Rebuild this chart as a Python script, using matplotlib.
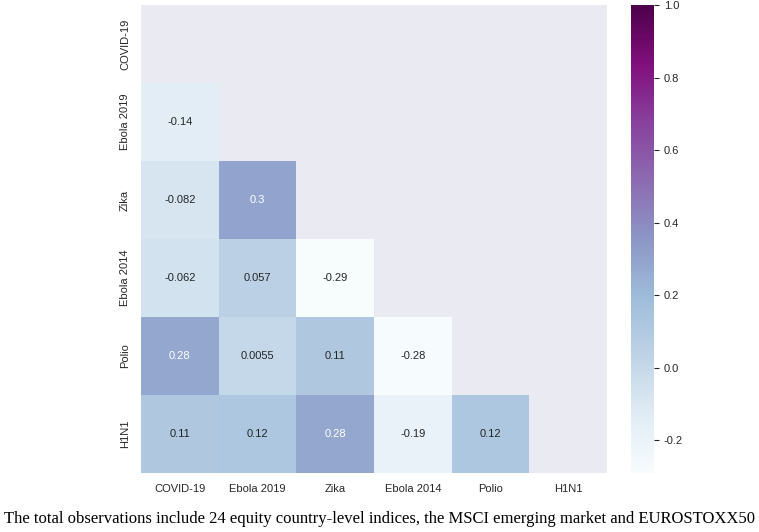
import numpy as np
import pandas as pd
import seaborn as sns
import matplotlib.pyplot as plt

labels = ["COVID-19", "Ebola 2019", "Zika", "Ebola 2014", "Polio", "H1N1"]

# lower triangle correlations, row by row (row i has i values)
lower = [
    [],
    [-0.14],
    [-0.082, 0.3],
    [-0.062, 0.057, -0.29],
    [0.28, 0.0055, 0.11, -0.28],
    [0.11, 0.12, 0.28, -0.19, 0.12],
]

cbar_ticks = [-0.2, 0.0, 0.2, 0.4, 0.6, 0.8, 1.0]

caption = ("The total observations include 24 equity country-level indices, "
           "the MSCI emerging market and EUROSTOXX50")

n = len(labels)
corr = np.eye(n)
for i, row in enumerate(lower):
    for j, v in enumerate(row):
        corr[i, j] = v
        corr[j, i] = v
corr = pd.DataFrame(corr, index=labels, columns=labels)
mask = np.triu(np.ones_like(corr, dtype=bool))

sns.set_theme(style="darkgrid")
plt.rcParams["font.family"] = ["Liberation Sans", "DejaVu Sans"]
plt.rcParams["axes.unicode_minus"] = False

fig = plt.figure(figsize=(7.59, 5.32), dpi=100)
ax = fig.add_axes([141 / 759, 1 - 473 / 532, 466 / 759, 468 / 532])
cax = fig.add_axes([631 / 759, 1 - 473 / 532, 23 / 759, 468 / 532])

sns.heatmap(corr, mask=mask, vmax=1, cmap="BuPu", annot=True,
            annot_kws={"fontsize": 8}, ax=ax, cbar_ax=cax)
ax.grid(False)
ax.tick_params(axis="both", length=0, labelsize=8, colors="#262626", pad=8)
ax.set_yticklabels(labels, rotation=90, va="center")
ax.set_xticklabels(labels, rotation=0)

cax.tick_params(axis="y", right=True, length=3.5, width=0.8, labelsize=8,
                colors="#262626")
cax.set_yticks(cbar_ticks)
cax.set_yticklabels([f"{t:.1f}" for t in cbar_ticks])

fig.text(0.5, 1 - 519 / 532, caption, ha="center", va="center",
         fontsize=11.95, family="Liberation Serif", color="black")

fig.savefig("out.png", dpi=100)
